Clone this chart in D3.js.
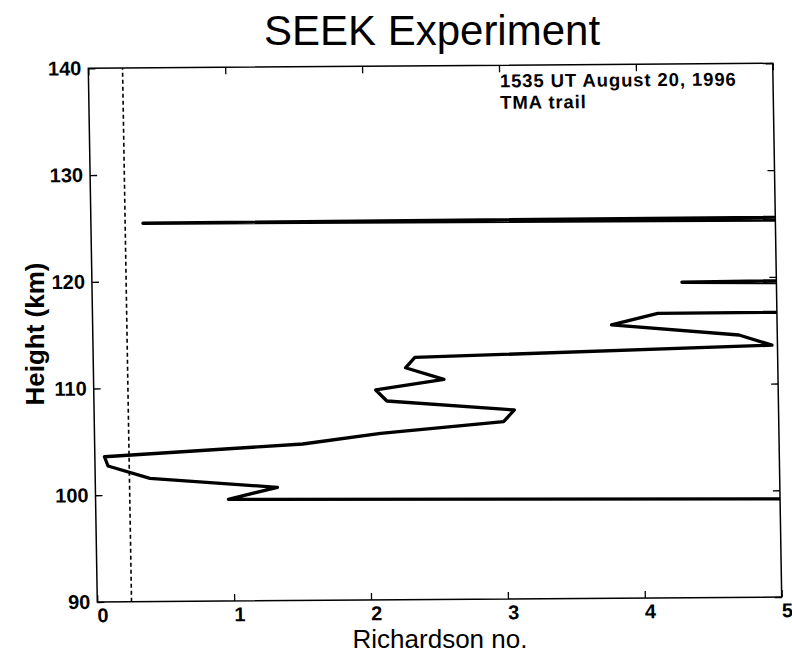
<!DOCTYPE html>
<html>
<head>
<meta charset="utf-8">
<script src="https://cdn.jsdelivr.net/npm/d3@7"></script>
<style>
  html, body { margin: 0; padding: 0; background: #fff; }
  svg { display: block; font-family: "Liberation Sans", Arial, Helvetica, sans-serif; }
</style>
</head>
<body>
<svg id="chart" width="792" height="653"></svg>
<script>
// ---- data ----
const heights = [98.56, 99.53, 100.62, 101.55, 102.73, 103.60, 104.66, 105.61, 106.61, 107.70,
                 108.63, 109.67, 110.62, 111.73, 112.69, 113.60, 114.57, 115.60, 116.65, 117.62,
                 118.58, 119.55, 120.52, 121.49, 122.46, 123.48, 124.48, 125.45, 126.45, 127.42];
const richardson = [12.3, 0.97, 1.33, 0.40, 0.095, 0.07, 1.52, 2.09, 2.99, 3.07,
                    2.14, 2.06, 2.56, 2.28, 2.35, 4.96, 4.72, 3.79, 4.13, 50,
                    12, 4.31, 12, 50, 50, 50, 35, 0.38, 35, 50];
const xTicks = [0, 1, 2, 3, 4, 5];
const yTicks = [90, 100, 110, 120, 130, 140];
const xDomain = [0, 5];
const yDomain = [90, 140];
const criticalRi = 0.25;
const titleText = "SEEK Experiment";
const xLabel = "Richardson no.";
const yLabel = "Height (km)";
const noteLines = ["1535 UT August 20, 1996", "TMA trail"];

// ---- layout ----
const svg = d3.select("#chart");
svg.append("rect").attr("width", 792).attr("height", 653).attr("fill", "#fff");

// plot frame corners in the (slightly skewed) scanned figure
const TL = [88.3, 68.3], TR = [772.7, 63.3], BL = [97.3, 602];
const W = Math.hypot(TR[0] - TL[0], TR[1] - TL[1]);
const H = Math.hypot(BL[0] - TL[0], BL[1] - TL[1]);
const m = [(TR[0] - TL[0]) / W, (TR[1] - TL[1]) / W, (BL[0] - TL[0]) / H, (BL[1] - TL[1]) / H, TL[0], TL[1]];

const g = svg.append("g").attr("transform", `matrix(${m.join(",")})`);

const x = d3.scaleLinear().domain(xDomain).range([0, W]);
const y = d3.scaleLinear().domain(yDomain).range([H, 0]);

g.append("clipPath").attr("id", "clip")
  .append("rect").attr("width", W).attr("height", H);

// critical Richardson number (dashed)
g.append("line")
  .attr("x1", x(criticalRi)).attr("x2", x(criticalRi))
  .attr("y1", y(yDomain[0])).attr("y2", y(yDomain[1]))
  .attr("stroke", "#000").attr("stroke-width", 1.6)
  .attr("stroke-dasharray", "4,3");

// profile
const pts = heights.map((h, i) => [richardson[i], h]);
g.append("path")
  .datum(pts)
  .attr("clip-path", "url(#clip)")
  .attr("fill", "none")
  .attr("stroke", "#000")
  .attr("stroke-width", 3.3)
  .attr("stroke-linejoin", "round")
  .attr("stroke-linecap", "round")
  .attr("d", d3.line().x(d => x(d[0])).y(d => y(d[1])));

// axes (inward ticks on all four sides)
const tickLen = 7;

const axB = g.append("g").attr("transform", `translate(0,${H})`)
  .call(d3.axisBottom(x).tickValues(xTicks).tickSizeInner(-tickLen).tickSizeOuter(0).tickPadding(6).tickFormat(d3.format("d")));
const axT = g.append("g")
  .call(d3.axisTop(x).tickValues(xTicks).tickSizeInner(-tickLen).tickSizeOuter(0).tickFormat(""));
const axL = g.append("g")
  .call(d3.axisLeft(y).tickValues(yTicks).tickSizeInner(-tickLen).tickSizeOuter(0).tickPadding(7).tickFormat(d3.format("d")));
const axR = g.append("g").attr("transform", `translate(${W},0)`)
  .call(d3.axisRight(y).tickValues(yTicks).tickSizeInner(-tickLen).tickSizeOuter(0).tickFormat(""));

[axB, axT, axL, axR].forEach(a => {
  a.select(".domain").remove();
  a.selectAll(".tick line").attr("stroke", "#000").attr("stroke-width", 1.3);
  a.selectAll(".tick text").attr("fill", "#000")
    .attr("font-family", "Liberation Sans, Arial, Helvetica, sans-serif")
    .attr("font-size", "20px").attr("font-weight", "bold");
});
axB.selectAll(".tick text").attr("dx", 5);

// frame
g.append("rect").attr("width", W).attr("height", H)
  .attr("fill", "none").attr("stroke", "#000").attr("stroke-width", 1.5);

// annotation
const note = g.append("text")
  .attr("y", 22)
  .attr("font-size", "18.5px").attr("font-weight", "bold")
  .attr("letter-spacing", "0.9px").attr("fill", "#000");
noteLines.forEach((t, i) => {
  note.append("tspan").attr("x", x(3.005)).attr("dy", i === 0 ? 0 : 21.5).text(t);
});

// title and axis labels
svg.append("text")
  .attr("x", 432).attr("y", 45)
  .attr("text-anchor", "middle")
  .attr("font-size", "42px")
  .attr("fill", "#000")
  .text(titleText);

svg.append("text")
  .attr("x", 440).attr("y", 648)
  .attr("text-anchor", "middle")
  .attr("font-size", "26px")
  .attr("fill", "#000")
  .text(xLabel);

svg.append("text")
  .attr("transform", "translate(44,334) rotate(-90)")
  .attr("text-anchor", "middle")
  .attr("font-size", "26px")
  .attr("font-weight", "bold")
  .attr("fill", "#000")
  .text(yLabel);
</script>
</body>
</html>
